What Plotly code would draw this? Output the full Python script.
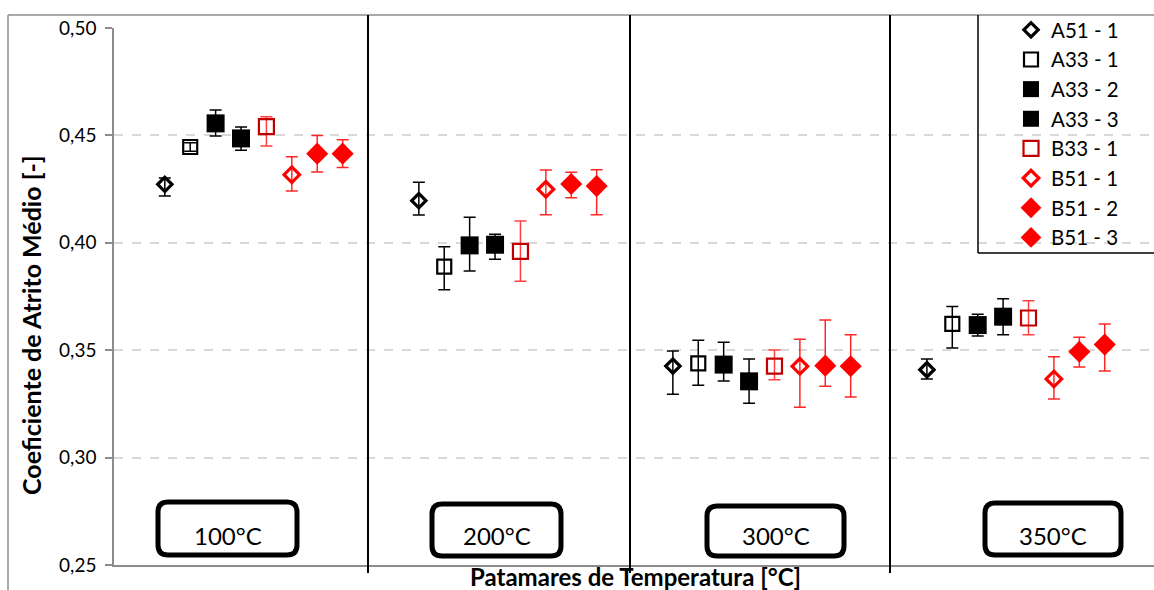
import plotly.graph_objects as go

# ---------------- data ----------------
temperatures = ["100°C", "200°C", "300°C", "350°C"]
group_offset = [0, 10, 20, 30]          # x position of each temperature group
series_names = ["A51 - 1", "A33 - 1", "A33 - 2", "A33 - 3",
                "B33 - 1", "B51 - 1", "B51 - 2", "B51 - 3"]

# mean friction coefficient per series, one value per temperature
A51_1 = [0.4272, 0.4196, 0.3426, 0.3409]
A33_1 = [0.4446, 0.3889, 0.3439, 0.3623]
A33_2 = [0.4556, 0.3988, 0.3433, 0.3617]
A33_3 = [0.4486, 0.3991, 0.3355, 0.3656]
B33_1 = [0.4541, 0.3960, 0.3426, 0.3650]
B51_1 = [0.4317, 0.4249, 0.3425, 0.3366]
B51_2 = [0.4415, 0.4274, 0.3428, 0.3493]
B51_3 = [0.4415, 0.4264, 0.3425, 0.3526]

# error bars (plus / minus)
A51_1_ep = [0.0030, 0.0086, 0.0070, 0.0050]
A51_1_em = [0.0054, 0.0067, 0.0131, 0.0043]
A33_1_ep = [0.0020, 0.0093, 0.0107, 0.0080]
A33_1_em = [0.0020, 0.0107, 0.0102, 0.0113]
A33_2_ep = [0.0062, 0.0131, 0.0104, 0.0050]
A33_2_em = [0.0059, 0.0119, 0.0076, 0.0051]
A33_3_ep = [0.0053, 0.0049, 0.0104, 0.0084]
A33_3_em = [0.0055, 0.0068, 0.0102, 0.0084]
B33_1_ep = [0.0046, 0.0142, 0.0075, 0.0080]
B33_1_em = [0.0090, 0.0139, 0.0063, 0.0078]
B51_1_ep = [0.0084, 0.0090, 0.0126, 0.0104]
B51_1_em = [0.0076, 0.0118, 0.0191, 0.0093]
B51_2_ep = [0.0085, 0.0054, 0.0213, 0.0067]
B51_2_em = [0.0085, 0.0064, 0.0096, 0.0071]
B51_3_ep = [0.0065, 0.0076, 0.0147, 0.0096]
B51_3_em = [0.0065, 0.0133, 0.0143, 0.0123]

values = [A51_1, A33_1, A33_2, A33_3, B33_1, B51_1, B51_2, B51_3]
err_plus = [A51_1_ep, A33_1_ep, A33_2_ep, A33_3_ep, B33_1_ep, B51_1_ep, B51_2_ep, B51_3_ep]
err_minus = [A51_1_em, A33_1_em, A33_2_em, A33_3_em, B33_1_em, B51_1_em, B51_2_em, B51_3_em]

# ---------------- styles ----------------
FONT = "Lato"
RED = "#FF0000"
styles = [
    dict(symbol="diamond-open", size=11, color="black", lw=3.2, ecol="black"),
    dict(symbol="square-open", size=14, color="black", lw=2.2, ecol="black"),
    dict(symbol="square", size=18, color="black", lw=0, ecol="black"),
    dict(symbol="square", size=18, color="black", lw=0, ecol="black"),
    dict(symbol="square-open", size=15, color="#C00000", lw=2.2, ecol="rgba(255,0,0,0.75)"),
    dict(symbol="diamond-open", size=12, color=RED, lw=3.2, ecol="rgba(255,0,0,0.85)"),
    dict(symbol="diamond", size=17, color=RED, lw=0, ecol="rgba(255,0,0,0.85)"),
    dict(symbol="diamond", size=17, color=RED, lw=0, ecol="rgba(255,0,0,0.85)"),
]

W, H = 1154, 590
L, R, T, B = 114, 0, 28, 25
XMAX = 40.94
plot_w = W - L - R
plot_h = H - T - B


def px2paper_x(px):
    return (px - L) / plot_w


def px2paper_y(py):
    return (H - B - py) / plot_h


fig = go.Figure()
for i, name in enumerate(series_names):
    st = styles[i]
    xs = [g + 2 + i for g in group_offset]
    fig.add_trace(go.Scatter(
        x=xs, y=values[i], mode="markers", name=name,
        marker=dict(symbol=st["symbol"], size=st["size"], color=st["color"],
                    line=dict(width=st["lw"], color=st["color"])),
        error_y=dict(type="data", symmetric=False, array=err_plus[i],
                     arrayminus=err_minus[i], color=st["ecol"],
                     thickness=1.5, width=6),
    ))

shapes = []
# chart outer border (top + left)
shapes.append(dict(type="line", xref="paper", yref="paper",
                   x0=px2paper_x(8), x1=1.01, y0=px2paper_y(15), y1=px2paper_y(15),
                   line=dict(color="#8C8C8C", width=1.5)))
shapes.append(dict(type="line", xref="paper", yref="paper",
                   x0=px2paper_x(8), x1=px2paper_x(8), y0=px2paper_y(15), y1=-0.1,
                   line=dict(color="#8C8C8C", width=1.5)))
# temperature separators
sep_px = [368, 630, 890]
for sx in sep_px:
    shapes.append(dict(type="line", xref="paper", yref="paper",
                       x0=px2paper_x(sx), x1=px2paper_x(sx),
                       y0=px2paper_y(573), y1=px2paper_y(15),
                       line=dict(color="black", width=2)))
# legend frame (left + bottom)
shapes.append(dict(type="line", xref="paper", yref="paper",
                   x0=px2paper_x(978), x1=px2paper_x(978),
                   y0=px2paper_y(253), y1=px2paper_y(15),
                   line=dict(color="black", width=1.5)))
shapes.append(dict(type="line", xref="paper", yref="paper",
                   x0=px2paper_x(978), x1=1.01,
                   y0=px2paper_y(253), y1=px2paper_y(253),
                   line=dict(color="black", width=1.5)))

# temperature label boxes (rounded)
box_px = [(158, 297, 502, 555), (432, 561, 504, 556), (707, 844, 506, 556), (985, 1121, 503, 555)]
annotations = []
for (bx0, bx1, by0, by1), lab in zip(box_px, temperatures):
    r = 10
    x0, x1 = px2paper_x(bx0), px2paper_x(bx1)
    yt, yb = px2paper_y(by0), px2paper_y(by1)
    rx = r / plot_w
    ry = r / plot_h
    path = (f"M {x0+rx},{yb} L {x1-rx},{yb} Q {x1},{yb} {x1},{yb+ry} "
            f"L {x1},{yt-ry} Q {x1},{yt} {x1-rx},{yt} L {x0+rx},{yt} "
            f"Q {x0},{yt} {x0},{yt-ry} L {x0},{yb+ry} Q {x0},{yb} {x0+rx},{yb} Z")
    shapes.append(dict(type="path", xref="paper", yref="paper", path=path,
                       line=dict(color="black", width=5), fillcolor="white"))
    annotations.append(dict(xref="paper", yref="paper",
                            x=(x0 + x1) / 2, y=px2paper_y(535),
                            xanchor="center", yanchor="middle",
                            text=lab, showarrow=False,
                            font=dict(family=FONT, size=24, color="black")))

annotations.append(dict(xref="paper", yref="paper", x=px2paper_x(31), y=px2paper_y(325),
                        xanchor="center", yanchor="middle",
                        text="<b>Coeficiente de Atrito Médio [-]</b>", textangle=-90,
                        showarrow=False, font=dict(family=FONT, size=25, color="black")))
annotations.append(dict(xref="paper", yref="paper", x=px2paper_x(635), y=px2paper_y(576),
                        xanchor="center", yanchor="middle",
                        text="<b>Patamares de Temperatura [°C]</b>",
                        showarrow=False, font=dict(family=FONT, size=24, color="black")))

fig.update_layout(
    width=W, height=H,
    margin=dict(l=L, r=R, t=T, b=B),
    paper_bgcolor="white", plot_bgcolor="white",
    separators=", ",
    showlegend=True,
    legend=dict(x=px2paper_x(1011), y=px2paper_y(10), xanchor="left", yanchor="top",
                bgcolor="rgba(0,0,0,0)", borderwidth=0,
                font=dict(family=FONT, size=20.5, color="black"),
                tracegroupgap=0, itemsizing="trace"),
    xaxis=dict(range=[0, XMAX], showticklabels=False, ticks="", showgrid=False,
               zeroline=False, showline=True, linecolor="#8C8C8C", linewidth=1.5,
               fixedrange=True),
    yaxis=dict(range=[0.25, 0.50], dtick=0.05, tick0=0.25, tickformat=".2f",
               ticks="outside", ticklen=7, tickcolor="#8C8C8C", tickwidth=1.5,
               showline=True, linecolor="#8C8C8C", linewidth=1.5,
               showgrid=True, gridcolor="#D9D9D9", gridwidth=1.5, griddash="dash",
               zeroline=False, tickfont=dict(family=FONT, size=19, color="black"),
               ticklabelstandoff=5),
    shapes=shapes,
    annotations=annotations,
)

fig.write_html("out.html")
